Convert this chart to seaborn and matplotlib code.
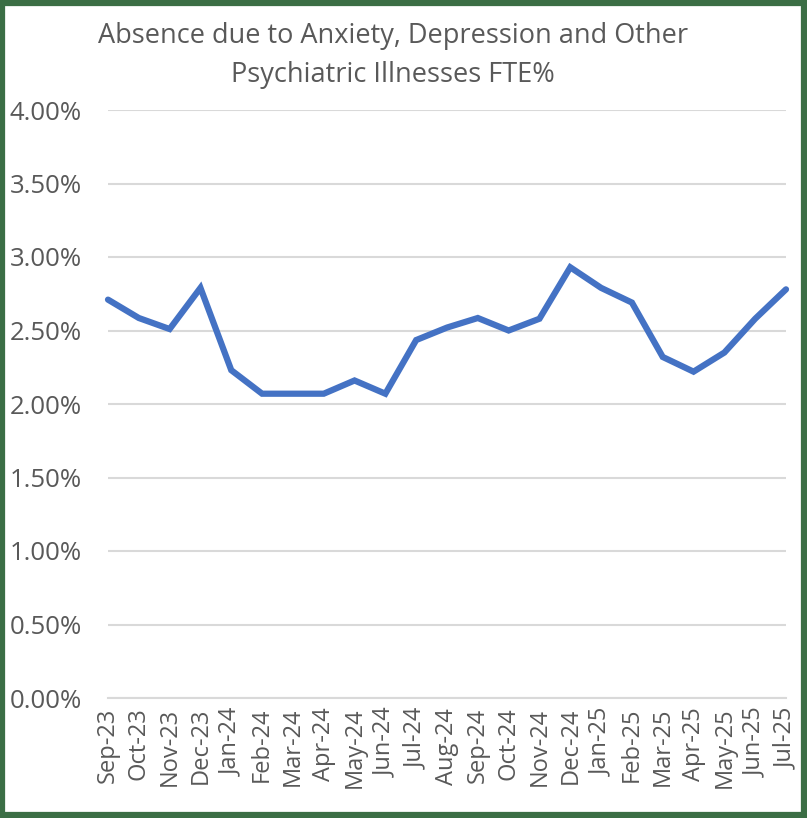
import pandas as pd
import seaborn as sns
import matplotlib.pyplot as plt
from matplotlib.patches import Rectangle

months = ["Sep-23", "Oct-23", "Nov-23", "Dec-23", "Jan-24", "Feb-24", "Mar-24", "Apr-24",
          "May-24", "Jun-24", "Jul-24", "Aug-24", "Sep-24", "Oct-24", "Nov-24", "Dec-24",
          "Jan-25", "Feb-25", "Mar-25", "Apr-25", "May-25", "Jun-25", "Jul-25"]
fte_pct = [2.71, 2.585, 2.51, 2.79, 2.23, 2.07, 2.07, 2.07, 2.16, 2.07, 2.435, 2.52,
           2.585, 2.50, 2.58, 2.93, 2.79, 2.69, 2.32, 2.22, 2.35, 2.58, 2.78]
y_ticks = [0, 0.5, 1.0, 1.5, 2.0, 2.5, 3.0, 3.5, 4.0]

df = pd.DataFrame({"month": months, "fte": fte_pct})
df["pos"] = range(len(df))

sns.set_style("white")
plt.rcParams["font.family"] = ["Open Sans", "DejaVu Sans"]
grey = "#595959"

fig = plt.figure(figsize=(8.07, 8.18), dpi=100)
ax = fig.add_axes([108 / 807, 1 - 698 / 818, (786 - 108) / 807, (698 - 110) / 818])

sns.lineplot(data=df, x="pos", y="fte", ax=ax, color="#4472C4", linewidth=4.5,
             solid_joinstyle="miter", clip_on=False)

ax.set_xlim(0, len(months) - 1)
ax.set_ylim(0, 4)
ax.set_yticks(y_ticks)
ax.set_yticklabels([f"{v:.2f}%" for v in y_ticks], color=grey, fontsize=18.5)
ax.set_xticks(df["pos"])
ax.set_xticklabels(months, rotation=90, color=grey, fontsize=17)
ax.tick_params(axis="y", length=0, pad=19)
ax.tick_params(axis="x", length=5, color="#d9d9d9", width=1.2, pad=2)
ax.yaxis.grid(True, color="#d9d9d9", linewidth=1.5)
for s in ["top", "right", "left"]:
    ax.spines[s].set_visible(False)
ax.spines["bottom"].set_color("#d9d9d9")
ax.spines["bottom"].set_linewidth(1.5)
ax.set_xlabel("")
ax.set_ylabel("")

fig.text(393 / 807, 1 - 36 / 818, "Absence due to Anxiety, Depression and Other",
         ha="center", va="center", fontsize=19.5, color=grey)
fig.text(393 / 807, 1 - 75 / 818, "Psychiatric Illnesses FTE%",
         ha="center", va="center", fontsize=19.5, color=grey)

fig.patches.append(Rectangle((0.003, 0.004), 0.993, 0.992, transform=fig.transFigure,
                             fill=False, edgecolor="#3b6e45", linewidth=4.5))

fig.savefig("out.png", dpi=100)
